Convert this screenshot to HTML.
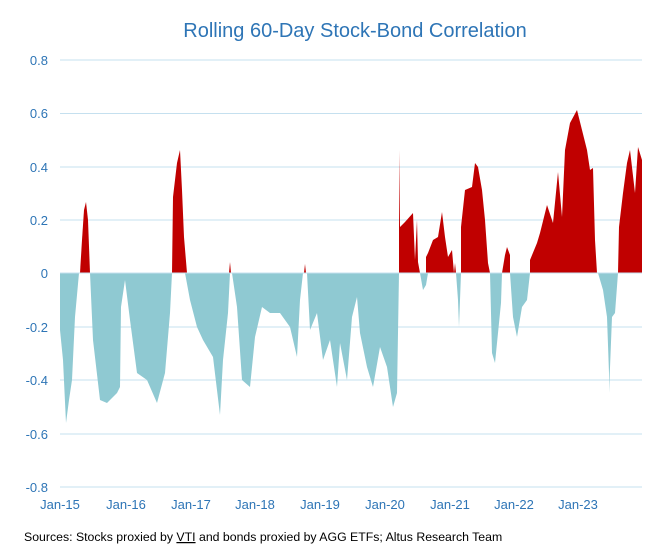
<!DOCTYPE html>
<html><head><meta charset="utf-8"><style>
body{margin:0;background:#fff;width:669px;height:555px;overflow:hidden;font-family:"Liberation Sans",sans-serif}
</style></head><body>
<svg width="669" height="555" xmlns="http://www.w3.org/2000/svg" font-family="Liberation Sans, sans-serif">
<text x="355" y="37" text-anchor="middle" font-size="20" fill="#2e75b6">Rolling 60-Day Stock-Bond Correlation</text>
<g stroke="#c5e0ef" stroke-width="1">
<line x1="60" x2="642" y1="60" y2="60"/><line x1="60" x2="642" y1="113.5" y2="113.5"/>
<line x1="60" x2="642" y1="167" y2="167"/><line x1="60" x2="642" y1="220" y2="220"/>
<line x1="60" x2="642" y1="327" y2="327"/><line x1="60" x2="642" y1="380" y2="380"/>
<line x1="60" x2="642" y1="434" y2="434"/><line x1="60" x2="642" y1="487" y2="487"/>
</g>
<g fill="#8fc9d2">
<path d="M60,273 L60,330 L63,360 L66,423 L69,400 L72,380 L75,317 L79,273 Z"/>
<path d="M90,273 L93,340 L100,400 L107,403 L117,393 L120,387 L121,307 L125,280 L130,320 L137,373 L147,380 L157,403 L165,373 L170,313 L172,273 Z"/>
<path d="M185,273 L190,300 L197,327 L203,340 L213,357 L220,415 L223,360 L228,313 L230,273 Z"/>
<path d="M232,273 L237,307 L242,380 L250,387 L255,337 L262,307 L270,313 L280,313 L290,327 L297,357 L300,300 L303,273 Z"/>
<path d="M307,273 L310,330 L317,313 L323,360 L330,340 L337,387 L340,343 L347,380 L352,317 L357,297 L360,333 L367,367 L373,387 L380,347 L387,367 L393,407 L397,393 L399,273 Z"/>
<path d="M420,273 L423,290 L426,285 L428,273 Z"/>
<path d="M456,273 L458,300 L459,327 L461,273 Z"/>
<path d="M490,273 L492,353 L495,363 L498,333 L501,303 L502,273 Z"/>
<path d="M510,273 L513,317 L517,337 L522,307 L527,300 L530,273 Z"/>
<path d="M598,273 L603,290 L607,317 L609,373 L609,393 L612,317 L615,313 L618,273 Z"/>
</g>
<g fill="#c00000">
<path d="M80,273 L82,240 L84,210 L86,202 L88,220 L90,273 Z"/>
<path d="M172,273 L173,197 L177,163 L180,150 L182,190 L184,237 L187,273 Z"/>
<path d="M229,273 L230,262 L231,273 Z"/>
<path d="M304,273 L305,264 L306,273 Z"/>
<path d="M399,273 L399,150 L400,227 L405,222 L413,213 L415,260 L417,220 L418,262 L420,273 Z"/>
<path d="M426,273 L426,257 L428,253 L433,240 L438,237 L442,212 L445,237 L448,257 L452,250 L454,273 L455,263 L456,273 Z"/>
<path d="M461,273 L461,227 L465,190 L472,187 L475,163 L478,167 L482,190 L485,220 L488,263 L490,273 Z"/>
<path d="M502,273 L505,255 L507,247 L510,255 L510,273 Z"/>
<path d="M530,273 L530,260 L537,243 L540,233 L547,205 L553,223 L558,172 L562,217 L565,150 L570,123 L577,110 L582,130 L587,150 L590,170 L593,168 L595,240 L597,273 Z"/>
<path d="M618,273 L619,227 L623,193 L627,163 L630,150 L635,193 L638,147 L642,160 L642,273 Z"/>
</g>
<line x1="60" x2="642" y1="273" y2="273" stroke="#c5e0ef" stroke-width="1"/>
<g font-size="13" fill="#2e75b6" text-anchor="end">
<text x="48" y="65">0.8</text><text x="48" y="118">0.6</text><text x="48" y="172">0.4</text>
<text x="48" y="225">0.2</text><text x="48" y="278">0</text><text x="48" y="332">-0.2</text>
<text x="48" y="385">-0.4</text><text x="48" y="439">-0.6</text><text x="48" y="492">-0.8</text>
</g>
<g font-size="13" fill="#2e75b6" text-anchor="middle">
<text x="60" y="509">Jan-15</text><text x="126" y="509">Jan-16</text><text x="191" y="509">Jan-17</text>
<text x="255" y="509">Jan-18</text><text x="320" y="509">Jan-19</text><text x="385" y="509">Jan-20</text>
<text x="450" y="509">Jan-21</text><text x="514" y="509">Jan-22</text><text x="578" y="509">Jan-23</text>
</g>
<text x="24" y="541" font-size="12.3" fill="#000">Sources: Stocks proxied by <tspan text-decoration="underline">VTI</tspan> and bonds proxied by AGG ETFs; Altus Research Team</text>
</svg>
</body></html>
